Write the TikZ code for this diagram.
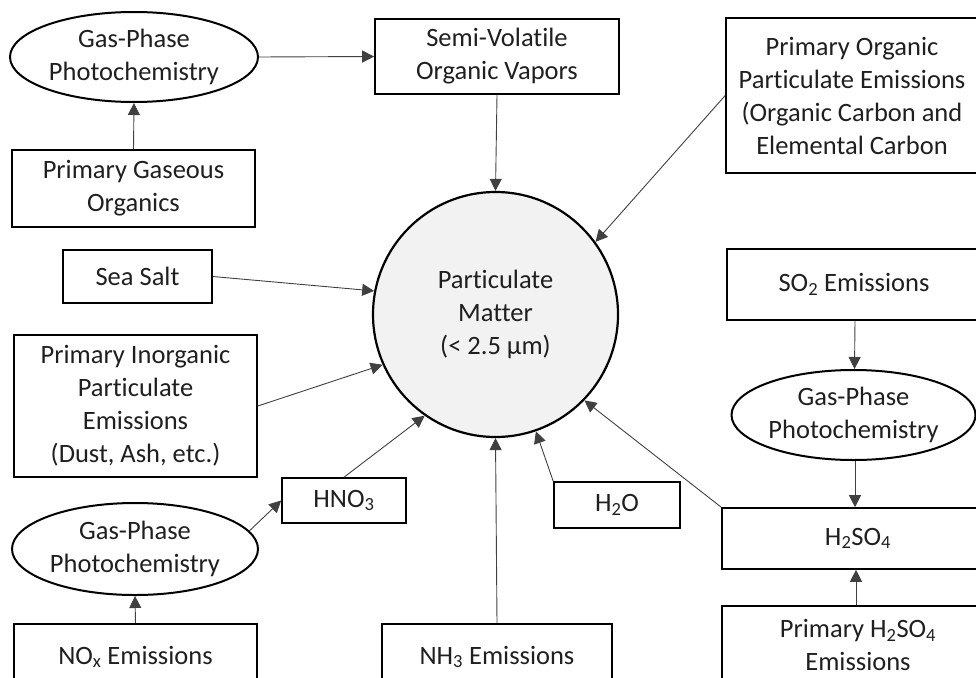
\documentclass[tikz,border=0pt]{standalone}
\usepackage{fontspec}
\setmainfont{Carlito}[Ligatures=NoCommon]
\usetikzlibrary{shapes.geometric,arrows.meta}
\tikzset{
  box/.style={draw=black,line width=1.6pt,rectangle,align=center,inner sep=0pt,text=black!88},
  oval/.style={draw=black,line width=2pt,ellipse,align=center,inner sep=0pt,text=black!88},
  conn/.style={draw=black!75,line width=0.9pt,-{Triangle[length=12pt,width=12pt]}},
}
\begin{document}
\begin{tikzpicture}[x=1pt,y=-1pt,font=\fontsize{26.5}{33}\selectfont]
\useasboundingbox (0,0) rectangle (976,677);
\clip (0,0) rectangle (976,677);
% centre
\node[circle,draw=black,line width=2.2pt,fill=gray!10,minimum size=245pt,inner sep=0pt,align=center,text=black!88] (pm) at (495.5,314.5) {Particulate\\Matter\\(< 2.5 µm)};
% top left
\node[oval,minimum width=248pt,minimum height=90pt] (gp1) at (134,57) {Gas-Phase\\Photochemistry};
\node[box,minimum width=244pt,minimum height=75pt] (sv) at (497,56.5) {Semi-Volatile\\Organic Vapors};
\node[box,minimum width=243pt,minimum height=77pt] (pgo) at (133.5,188.5) {Primary Gaseous\\Organics};
\node[box,minimum width=252pt,minimum height=155pt] (pope) at (852,95.5) {Primary Organic\\Particulate Emissions\\(Organic Carbon and\\Elemental Carbon};
% left
\node[box,minimum width=149pt,minimum height=53pt] (ss) at (137.5,276.5) {Sea Salt};
\node[box,minimum width=243pt,minimum height=142pt] (pi) at (135.5,406) {Primary Inorganic\\Particulate\\Emissions\\(Dust, Ash, etc.)};
% bottom left
\node[box,minimum width=124pt,minimum height=45pt] (hno) at (344,500.5) {HNO\textsubscript{3}};
\node[oval,minimum width=246pt,minimum height=92pt] (gp3) at (135,549) {Gas-Phase\\Photochemistry};
\node[box,minimum width=243pt,minimum height=66pt] (nox) at (135.5,657) {NO\textsubscript{x} Emissions};
\node[box,minimum width=230pt,minimum height=66pt] (nh) at (497,657) {NH\textsubscript{3} Emissions};
\node[box,minimum width=126pt,minimum height=46pt] (h2o) at (617,505) {H\textsubscript{2}O};
% right
\node[box,minimum width=254pt,minimum height=71pt] (so2) at (854,284.5) {SO\textsubscript{2} Emissions};
\node[oval,minimum width=244pt,minimum height=90pt] (gp2) at (853.5,415) {Gas-Phase\\Photochemistry};
\node[box,minimum width=272pt,minimum height=61pt] (hs) at (858,538.5) {H\textsubscript{2}SO\textsubscript{4}};
\node[box,minimum width=272pt,minimum height=92pt] (phs) at (858,652) {};
\node[align=center,text=black!88,inner sep=0pt] (phst) at (858,645) {Primary H\textsubscript{2}SO\textsubscript{4}\\Emissions};
% connectors
\draw[conn] (gp1.east) -- (sv.west);
\draw[conn] (pgo.north) -- (gp1.south);
\draw[conn] (sv.south) -- (pm.north);
\draw[conn] (pope.west) -- (pm.36);
\draw[conn] (ss.east) -- (pm.169);
\draw[conn] (pi.east) -- (pm.204);
\draw[conn] (hno.north) -- (pm.-125);
\draw[conn] (gp3.9) -- (hno.west);
\draw[conn] (nox.north) -- (gp3.south);
\draw[conn] (nh.north) -- (pm.south);
\draw[conn] (h2o.north west) -- (pm);
\draw[conn] (hs.north west) -- (pm.-44);
\draw[conn] ([xshift=1pt]so2.south) -- ([xshift=1pt]gp2.north);
\draw[conn] ([xshift=1.5pt]gp2.south) -- ([xshift=-3pt]hs.north);
\draw[conn] ([xshift=-2pt]phs.north) -- ([xshift=-2pt]hs.south);
\end{tikzpicture}
\end{document}
